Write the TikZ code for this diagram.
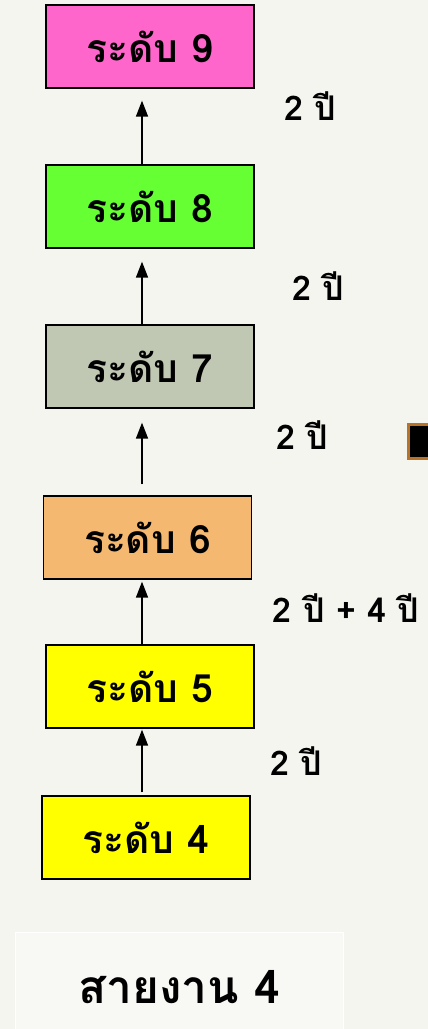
\documentclass[tikz,border=0pt]{standalone}
\usepackage{fontspec}
\usepackage{tikz}
\usetikzlibrary{arrows.meta}
\newfontfamily\thaifont[Script=Thai]{Loma}

\definecolor{bgpaper}{HTML}{F5F5EF}
\definecolor{lvpink}{HTML}{FF66CC}
\definecolor{lvgreen}{HTML}{66FF33}
\definecolor{lvgray}{HTML}{C0C8B4}
\definecolor{lvorange}{HTML}{F4B870}
\definecolor{lvyellow}{HTML}{FFFF00}
\definecolor{markbrown}{HTML}{B87328}

\tikzset{
  level/.style={draw=black,line width=1.3pt,minimum width=208pt,minimum height=83pt,
    inner sep=0pt,font=\thaifont\bfseries\fontsize{39}{44}\selectfont},
  years/.style={font=\thaifont\bfseries\fontsize{34}{38}\selectfont,inner sep=0pt},
  uparrow/.style={line width=1.6pt,-{Triangle[length=16pt,width=12pt]}}
}

\begin{document}
\begin{tikzpicture}[x=1pt,y=-1pt]
      \fill[bgpaper] (0,0) rectangle (428,1029);
      \useasboundingbox (0,0) rectangle (428,1029);

      % levels
      \node[level,fill=lvpink] (l9) at (150,46.5) {ระดับ 9};
      \node[level,fill=lvgreen] (l8) at (150,206.5) {ระดับ 8};
      \node[level,fill=lvgray] (l7) at (150,366.5) {ระดับ 7};
      \node[level,fill=lvorange] (l6) at (147.5,537.5) {ระดับ 6};
      \node[level,fill=lvyellow] (l5) at (150,686.5) {ระดับ 5};
      \node[level,fill=lvyellow] (l4) at (146,837.5) {ระดับ 4};

      % arrows
      \coordinate (col) at (142,0);
      \draw[uparrow] (l8.north -| col) -- ([yshift=-12]l9.south -| col);
      \draw[uparrow] (l7.north -| col) -- ([yshift=-13]l8.south -| col);
      \draw[uparrow] ([yshift=11]l6.north -| col) -- ([yshift=-14]l7.south -| col);
      \draw[uparrow] (l5.north -| col) -- ([yshift=-2]l6.south -| col);
      \draw[uparrow] ([yshift=3]l4.north -| col) -- ([yshift=-1]l5.south -| col);

      % years
      \node[years] (y9) at (310,106) {2 ปี};
      \node[years] (y8) at (318,286) {2 ปี};
      \node[years] (y7) at (302,435) {2 ปี};
      \node[years] (y6) at (346,608) {2 ปี + 4 ปี};
      \node[years] (y5) at (296,761) {2 ปี};

      % marker at right edge
      \draw[markbrown,line width=3pt,fill=black] (408.5,424.5) rectangle (440,458.5);

      % line name
      \node[draw=white,line width=1pt,fill=white,fill opacity=0.35,text opacity=1,
        minimum width=328pt,minimum height=110pt,anchor=north west,
        font=\thaifont\bfseries\fontsize{46}{52}\selectfont] (line) at (15,932) {สายงาน 4};
\end{tikzpicture}
\end{document}
